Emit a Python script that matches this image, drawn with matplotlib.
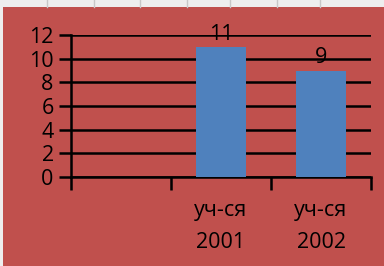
import numpy as np
import matplotlib
matplotlib.use("Agg")
import matplotlib.pyplot as plt
from matplotlib.patches import Rectangle

plt.rcParams['font.family'] = ['Open Sans', 'DejaVu Sans']

# data
categories = ["", "уч-ся", "уч-ся"]
years = ["", "2001", "2002"]
values = [0, 11, 9]
labels_shown = [False, True, True]
y_ticks = [0, 2, 4, 6, 8, 10, 12]

RED = '#C0504D'
BLUE = '#4F81BD'
FS = 15.5

fig = plt.figure(figsize=(3.84, 2.66), dpi=100)
fig.set_facecolor('#eeeeee')

# faint spreadsheet cells peeking at the top
for xp in [47, 94, 140, 187, 230, 277, 320]:
    fig.add_artist(plt.Line2D([xp / 384, xp / 384], [259 / 266, 1], color='#c8c8c8', lw=1))
# red chart area
fig.add_artist(Rectangle((3 / 384, 0), 381 / 384, 259 / 266, transform=fig.transFigure,
                         facecolor=RED, edgecolor='none', zorder=0))

ax = fig.add_axes([71 / 384, 89 / 266, 300 / 384, 142 / 266])
ax.set_facecolor('none')

x = np.arange(len(categories))
bars = ax.bar(x[1:], values[1:], width=0.5, color=BLUE, zorder=3)

ax.set_xlim(-0.5, len(categories) - 0.5)
ax.set_ylim(0, 12)
ax.set_yticks(y_ticks)
ax.set_yticklabels([str(v) for v in y_ticks], fontsize=FS)
ax.yaxis.grid(True, color='black', lw=1.8, zorder=1)
ax.tick_params(axis='y', length=9, width=1.8, pad=3.5, color='black')

# category boundaries as ticks
ax.set_xticks(np.arange(len(categories) + 1) - 0.5, minor=False)
ax.set_xticklabels([])
ax.tick_params(axis='x', length=9, width=1.8, color='black')
for xi, lab, yr in zip(x, categories, years):
    if lab:
        ax.text(xi, -0.275, lab, transform=ax.get_xaxis_transform(), ha='center',
                va='baseline', fontsize=FS)
        ax.text(xi, -0.5, yr, transform=ax.get_xaxis_transform(), ha='center',
                va='baseline', fontsize=FS)

for xi, v, show in zip(x, values, labels_shown):
    if show:
        ax.text(xi, v + 0.6, str(v), ha='center', va='baseline', fontsize=FS, zorder=4)

for s in ['top', 'right']:
    ax.spines[s].set_visible(False)
ax.spines['left'].set_linewidth(1.8)
ax.spines['bottom'].set_linewidth(1.8)
ax.spines['left'].set_zorder(2)

fig.savefig('out.png', dpi=100, facecolor=fig.get_facecolor())
